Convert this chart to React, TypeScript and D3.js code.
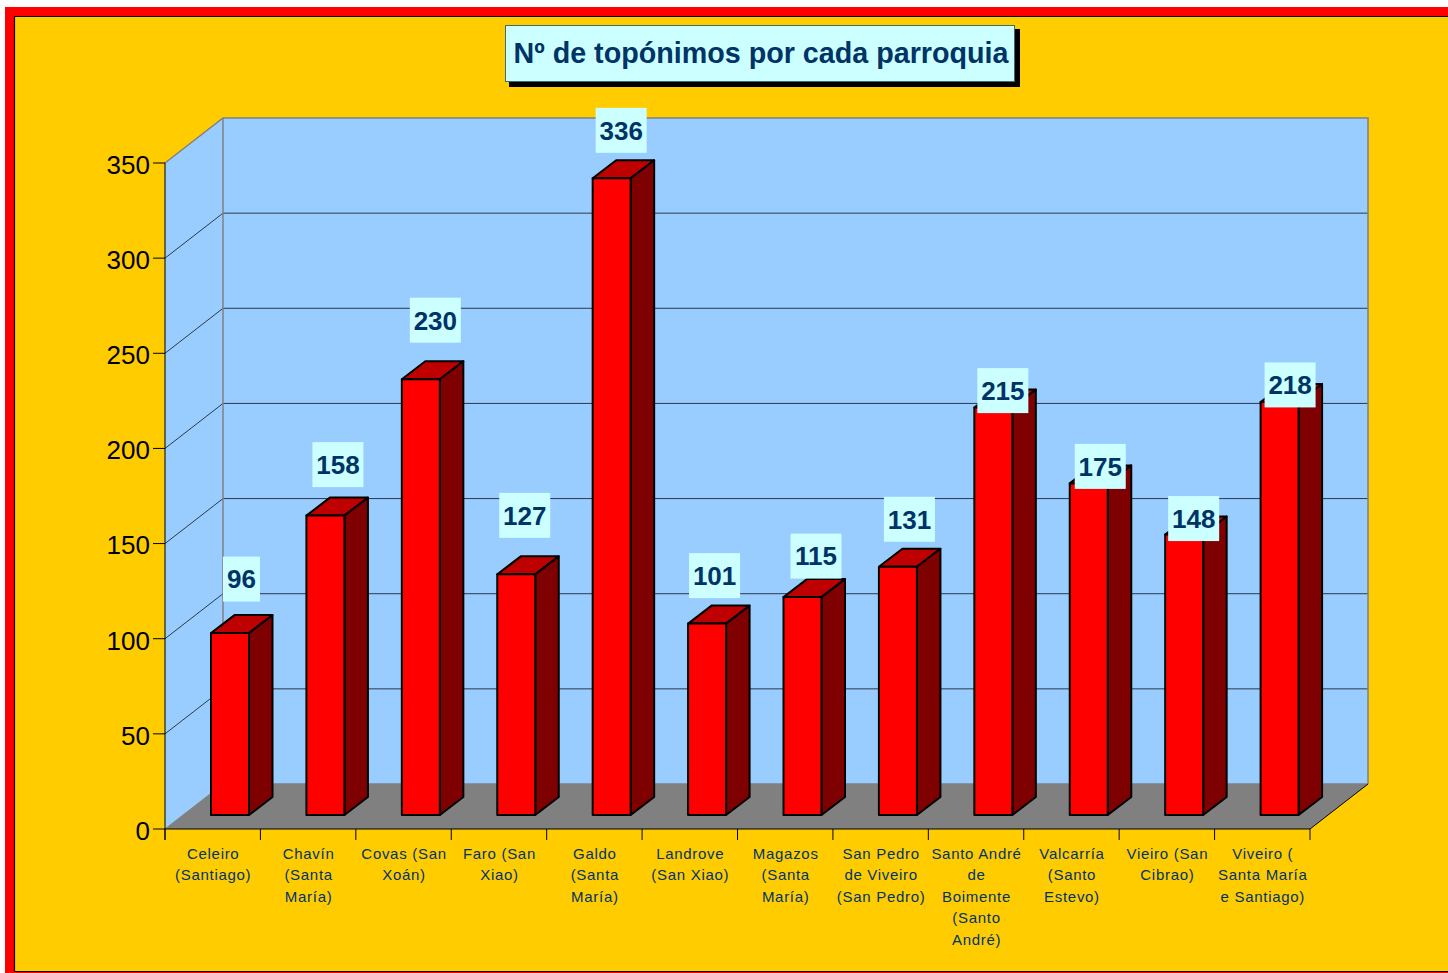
import React from "react";
import * as d3 from "d3";

const chartTitle = "Nº de topónimos por cada parroquia";
const parishLabels = [
  "Celeiro\n(Santiago)",
  "Chavín\n(Santa\nMaría)",
  "Covas (San\nXoán)",
  "Faro (San\nXiao)",
  "Galdo\n(Santa\nMaría)",
  "Landrove\n(San Xiao)",
  "Magazos\n(Santa\nMaría)",
  "San Pedro\nde Viveiro\n(San Pedro)",
  "Santo André\nde\nBoimente\n(Santo\nAndré)",
  "Valcarría\n(Santo\nEstevo)",
  "Vieiro (San\nCibrao)",
  "Viveiro (\nSanta María\ne Santiago)",
];
const toponymCounts = [96, 158, 230, 127, 336, 101, 115, 131, 215, 175, 148, 218];
const valueTicks = [0, 50, 100, 150, 200, 250, 300, 350];

// manual placement of each value label relative to its bar (layout, not data)
const labelLift = [54, 51, 59, 59, 48, 48, 41, 47.5, 17, 17, 16, 17];
const labelShift = [0, 1, 3, -3, -2, -4, 2, 0, -2, 0, -2, -1];

const W = 1448, H = 973;
const frontLeft = 165, frontRight = 1310, frontBottom = 829, frontTop = 163;
const depthX = 58, depthY = 45;
const barDepthX = 23.5, barDepthY = 18;
const barBaseLift = 14;
const barWidth = 38;
const barInset = 46;

const FONT = "'Liberation Sans', Arial, sans-serif";
const NAVY = "#003366";
const PALE = "#CCFFFF";

export default function App() {
  const x = d3.scaleBand<number>().domain(d3.range(parishLabels.length)).range([frontLeft, frontRight]);
  const y = d3.scaleLinear().domain([0, 350]).range([frontBottom, frontTop]);
  const barH = d3.scaleLinear().domain([0, 350]).range([0, 663.2]);
  const pts = (p: number[][]) => p.map((d) => d.join(",")).join(" ");
  const barBase = frontBottom - barBaseLift;
  const yMax = y(350), y0 = y(0);

  return (
    <svg width={W} height={H} style={{ position: "absolute", left: 0, top: 0, display: "block", background: "#fff" }} fontFamily={FONT}>
      {/* frame */}
      <rect x={5} y={7} width={W - 5} height={H - 7} fill="#FF0000" />
      <rect x={14} y={16} width={W - 14} height={955.5} fill="#FFCC00" />
      <path d={`M14.5 ${H - 1.5}H${W}M14.5 ${H - 1.5}V16.5H${W}`} fill="none" stroke="#000" strokeWidth={1.2} />

      {/* walls and floor */}
      <polygon points={pts([[frontLeft + depthX, yMax - depthY], [frontRight + depthX, yMax - depthY], [frontRight + depthX, y0 - depthY], [frontLeft + depthX, y0 - depthY]])} fill="#99CCFF" />
      <polygon points={pts([[frontLeft, yMax], [frontLeft + depthX, yMax - depthY], [frontLeft + depthX, y0 - depthY], [frontLeft, y0]])} fill="#99CCFF" />
      <polygon points={pts([[frontLeft, y0], [frontLeft + depthX, y0 - depthY], [frontRight + depthX, y0 - depthY], [frontRight, y0]])} fill="#808080" />

      {/* gridlines */}
      {valueTicks.filter((t) => t > 0 && t < 350).map((t) => (
        <polyline key={t} points={pts([[frontLeft, y(t)], [frontLeft + depthX, y(t) - depthY], [frontRight + depthX, y(t) - depthY]])} fill="none" stroke="#2b3a4a" strokeWidth={1} />
      ))}

      {/* wall borders */}
      <polyline points={pts([[frontLeft, yMax], [frontLeft + depthX, yMax - depthY], [frontRight + depthX, yMax - depthY], [frontRight + depthX, y0 - depthY]])} fill="none" stroke="#808080" strokeWidth={1.5} />
      <line x1={frontLeft + depthX} x2={frontLeft + depthX} y1={yMax - depthY} y2={y0 - depthY} stroke="#808080" strokeWidth={1.5} />
      <line x1={frontLeft} x2={frontLeft + depthX} y1={y0} y2={y0 - depthY} stroke="#808080" strokeWidth={1} />
      <line x1={frontLeft + depthX} x2={frontRight + depthX} y1={y0 - depthY} y2={y0 - depthY} stroke="#808080" strokeWidth={1.5} />
      <line x1={frontRight} x2={frontRight + depthX} y1={y0} y2={y0 - depthY} stroke="#000" strokeWidth={1} />

      {/* bars */}
      {toponymCounts.map((v, i) => {
        const l = x(i)! + barInset;
        const r = l + barWidth;
        const t = barBase - barH(v);
        return (
          <g key={i} stroke="#000" strokeWidth={2} strokeLinejoin="round">
            <polygon points={pts([[l, t], [l + barDepthX, t - barDepthY], [r + barDepthX, t - barDepthY], [r, t]])} fill="#BF0000" />
            <polygon points={pts([[r, t], [r + barDepthX, t - barDepthY], [r + barDepthX, barBase - barDepthY], [r, barBase]])} fill="#7F0000" />
            <rect x={l} y={t} width={barWidth} height={barBase - t} fill="#FF0000" />
          </g>
        );
      })}

      {/* axes */}
      <line x1={frontLeft} x2={frontLeft} y1={yMax} y2={y0 + 11} stroke="#000" strokeWidth={1} />
      <line x1={frontLeft} x2={frontRight} y1={y0} y2={y0} stroke="#000" strokeWidth={1} />
      {valueTicks.map((t) => (
        <g key={t}>
          <line x1={frontLeft - 12} x2={frontLeft} y1={y(t)} y2={y(t)} stroke="#000" strokeWidth={1} />
          <text x={150} y={y(t) + 1.5} dy="0.36em" textAnchor="end" fontSize={26} fill="#000">{t}</text>
        </g>
      ))}
      {d3.range(parishLabels.length + 1).map((i) => {
        const px = frontLeft + i * x.bandwidth();
        return <line key={i} x1={px} x2={px} y1={y0} y2={y0 + 11} stroke="#000" strokeWidth={1} />;
      })}
      {parishLabels.map((label, i) => (
        <text key={i} textAnchor="middle" fontSize={15} letterSpacing={0.7} fill={NAVY}>
          {label.split("\n").map((line, j) => (
            <tspan key={j} x={x(i)! + x.bandwidth() / 2 + 0.5} y={858.5 + j * 21.6}>{line}</tspan>
          ))}
        </text>
      ))}

      {/* value labels */}
      {toponymCounts.map((v, i) => {
        const t = barBase - barH(v);
        const cx = x(i)! + barInset + 30.5 + labelShift[i];
        const cy = t - labelLift[i];
        const w = String(v).length === 2 ? 37 : 51;
        return (
          <g key={i}>
            <rect x={cx - w / 2} y={cy - 22.5} width={w} height={45} fill={PALE} />
            <text x={cx} y={cy} dy="0.36em" textAnchor="middle" fontSize={26} fontWeight="bold" fill={NAVY}>{v}</text>
          </g>
        );
      })}

      {/* title */}
      <rect x={509} y={29} width={511} height={58} fill="#000" />
      <rect x={505.5} y={25.5} width={509} height={56} fill={PALE} stroke="#3f6b6b" strokeWidth={1} />
      <text x={761} y={53} dy="0.36em" textAnchor="middle" fontSize={28.7} fontWeight="bold" fill={NAVY}>{chartTitle}</text>
    </svg>
  );
}
